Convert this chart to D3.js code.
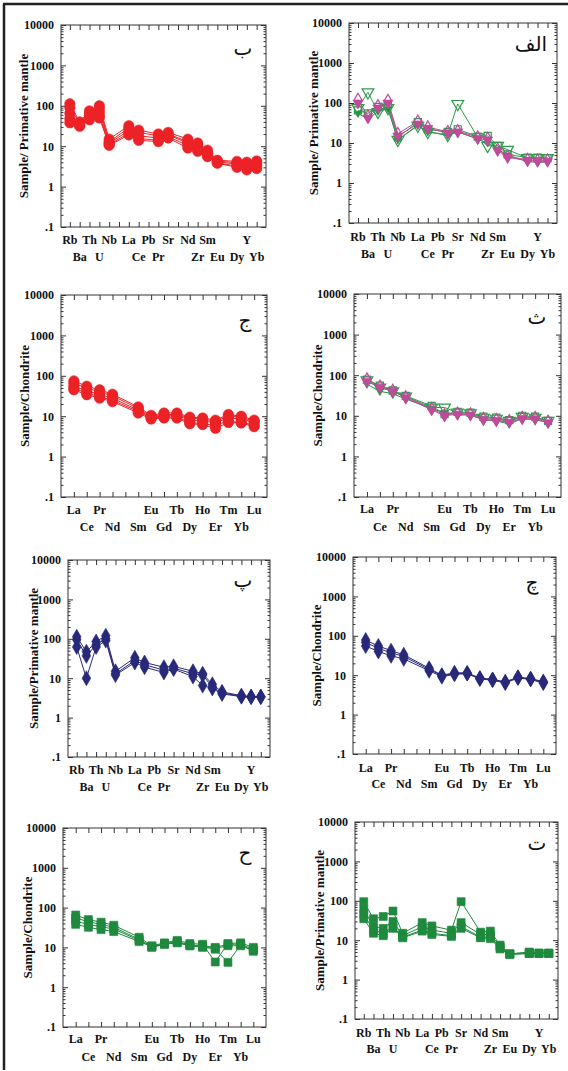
<!DOCTYPE html>
<html>
<head>
<meta charset="utf-8">
<script src="https://cdn.jsdelivr.net/npm/d3@7"></script>
<style>
body{margin:0;background:#fff}
text{font-family:"Liberation Serif","Times New Roman",serif;font-weight:bold;fill:#111}
</style>
</head>
<body>
<svg id="fig"></svg>
<script>
// element slots on the x axis ("" = empty slot)
var pmLabels = ["Rb","Ba","Th","U","Nb","","La","Ce","Pb","Pr","Sr","","Nd","Zr","Sm","Eu","","Dy","Y","Yb"];
var pmPlotted = ["Rb","Ba","Th","U","Nb","La","Ce","Pr","Sr","Nd","Zr","Sm","Eu","Dy","Y","Yb"];
var reeLabels = ["La","Ce","Pr","Nd","","Sm","Eu","Gd","Tb","Dy","Ho","Er","Tm","Yb","Lu"];
var reePlotted = ["La","Ce","Pr","Nd","Sm","Eu","Gd","Tb","Dy","Ho","Er","Tm","Yb","Lu"];

var yTicks = [0.1,1,10,100,1000,10000];
var yTickLabels = [".1","1","10","100","1000","10000"];

// ب  primitive mantle, red circles
var pmRed = [
  [112,40,75,100,15,32,25,20,22,15,12,8,4.5,4.2,4,4.3],
  [90,37,65,85,13,28,22,18,20,13,10.5,7,4.3,3.9,3.6,4],
  [65,35,58,70,12,24,18,16,19,12,9.5,6.5,4.1,3.6,3.4,3.6],
  [48,33,50,58,11,21,15.5,14,17,10.5,8.5,6,3.9,3.2,3,3.2],
  [38,31,45,50,10.5,19,14,13,16,9,7.5,5.5,3.8,3,2.6,2.8]
];
// الف  primitive mantle, green / magenta triangles
var pmMixed = [
  [55,40,62,72,12,28,19,15.5,19,12.5,10,7,5,3.4,3.3,3.3],
  [75,185,60,75,12,27,19,16,95,14,8.5,8.5,6.8,4.2,4.2,4.2],
  [65,55,80,90,14,33,22,19,22,14.5,15,8.5,5.2,4.3,4.3,4.2],
  [100,42,75,100,15,30,23,18,19,13,12,6.5,4.4,3.6,3.5,3.5],
  [122,47,85,115,17,35,25,19,20,14,13,7,4.6,3.8,3.7,3.7]
];
// ج  chondrite, red circles
var reeRed = [
  [75,55,45,35,17,10.5,12,12,9.5,9,8,11,10,8],
  [65,50,40,32,15.5,10,11,11,9,8.5,7.5,10,9.5,7.5],
  [55,42,35,28,14,9.5,10,10.5,8,7.5,7,9,8.5,7],
  [48,38,30,25,13,9,9.5,9.5,7,6.5,6,7.5,7,6],
  [45,34,28,23,12,8.5,9,9,6.5,6.2,5,7,6.8,5.5]
];
// ث  chondrite, green / magenta triangles
var reeMixed = [
  [60,40,35,26,15,12,10.5,10.5,8,7.5,6.3,8.5,8,6.8],
  [75,50,40,30,16,16,12,11.5,9,8.5,7.5,9.5,9,7.5],
  [78,55,42,31,17.5,11,12.5,12,9.5,9,7.8,10,9.5,7.5],
  [70,50,40,28,14,10,11,10.5,8,7.5,7,8.5,8.5,6.8],
  [80,53,42,29,15,10.5,11.5,11,8.5,8,7.5,9,9,7.3]
];
// پ  primitive mantle, navy diamonds
var pmNavy = [
  [112,47,85,120,15,33,25,19,20,15,13,7,4.5,3.6,3.4,3.4],
  [95,37,70,100,13,28,22,16,18,13,12,6,4.2,3.5,3.4,3.4],
  [62,10,62,90,12,25,19,14,17,11,6.5,5.5,4,3.4,3.3,3.3]
];
// چ  chondrite, navy diamonds
var reeNavy = [
  [78,55,42,33,15,10,11.5,11.5,8.5,7.8,6.8,8.9,8.2,6.9],
  [68,48,37,30,14,9.8,11,11,8.2,7.7,6.6,8.7,8,6.6],
  [55,40,31,26,13,9.2,10.5,11,8,7.5,6.3,8.5,7.8,6.3]
];
// ح  chondrite, green squares
var reeGreen = [
  [65,50,43,36,18,11,13,15,12.5,12,4.3,12.5,13,10],
  [55,44,38,32,16,10.5,12.5,14,11.5,11,10,12,12,9],
  [45,38,33,29,15,10,12,13.5,11,10.5,9,4.2,11.5,8],
  [38,32,28,25,14,10.5,12,13,11,10,9.5,11,11,8.5]
];
// ت  primitive mantle, green squares
var pmGreen = [
  [95,35,40,55,15,28,23,18,95,16,17,7.5,4.5,5,4.7,4.7],
  [60,22,20,30,13,22,18,15,28,14,14,7,4.5,4.8,4.7,4.7],
  [45,18,15,22,12,18,15,13,22,12,12,6.5,4.4,4.6,4.6,4.6],
  [35,15,13,20,11.5,17,14,12.5,20,11.5,11,6,4.4,4.6,4.6,4.6]
];

var W = 568, H = 1071;
var serif = "'Liberation Serif', 'Times New Roman', serif";
var svg = d3.select("#fig").attr("width", W).attr("height", H);

var red = "#ec2227", navy = "#29297a", green = "#1f8a3e", green2 = "#2f9a4c", mag = "#c04a9c";

function styles(n, color, marker, fill) {
  var out = [];
  for (var i = 0; i < n; i++) out.push({color: color, marker: marker, fill: fill});
  return out;
}
var mixedStyles = [
  {color: green, marker: "tri", fill: true, size: 22},
  {color: green2, marker: "tri", fill: false, size: 60},
  {color: green2, marker: "square", fill: false, size: 50},
  {color: mag, marker: "tri", fill: true, size: 45},
  {color: mag, marker: "diamond", fill: false, size: 45}
];

var panels = [
  {kind:"pm", x0:61, x1:266, y0:25, y1:227, ylab:"Sample/ Primative mantle", ylx:23, row1:244, row2:261, letter:"ب", lx:243, ly:48, data:pmRed, st:styles(5, red, "circle", true)},
  {kind:"pm", x0:349, x1:557, y0:23, y1:223, ylab:"Sample/ Primative mantle", ylx:313, row1:241, row2:258, letter:"الف", lx:531, ly:44, data:pmMixed, st:mixedStyles},
  {kind:"ree", x0:61, x1:267, y0:295, y1:497, ylab:"Sample/Chondrite", ylx:24, row1:514, row2:531, letter:"ج", lx:245, ly:320, data:reeRed, st:styles(5, red, "circle", true)},
  {kind:"ree", x0:354, x1:561, y0:294, y1:497, ylab:"Sample/Chondrite", ylx:317, row1:513, row2:531, letter:"ث", lx:537, ly:317, data:reeMixed, st:mixedStyles},
  {kind:"pm", x0:68, x1:270, y0:560, y1:757, ylab:"Sample/Primative mantle", ylx:33, row1:774, row2:791, letter:"پ", lx:243, ly:580, data:pmNavy, st:styles(3, navy, "diamond", true)},
  {kind:"ree", x0:353, x1:556, y0:557, y1:754, ylab:"Sample/Chondrite", ylx:316, row1:772, row2:788, letter:"چ", lx:532, ly:582, data:reeNavy, st:styles(3, navy, "diamond", true)},
  {kind:"ree", x0:63, x1:266, y0:828, y1:1027, ylab:"Sample/Chondrite", ylx:27, row1:1043, row2:1061, letter:"ح", lx:245, ly:853, data:reeGreen, st:styles(4, green, "square", true)},
  {kind:"pm", x0:355, x1:558, y0:822, y1:1019, ylab:"Sample/Primative mantle", ylx:319, row1:1037, row2:1053, letter:"ت", lx:537, ly:843, data:pmGreen, st:styles(4, green, "square", true)}
];

// outer frame lines
svg.append("line").attr("x1",4).attr("x2",4).attr("y1",4).attr("y2",1070).attr("stroke","#222").attr("stroke-width",2.5);
svg.append("line").attr("x1",3).attr("x2",568).attr("y1",4).attr("y2",4).attr("stroke","#222").attr("stroke-width",2.5);

var minorTicks = [];
[0.1,1,10,100,1000].forEach(function(d){ for (var k = 2; k < 10; k++) minorTicks.push(d*k); });

panels.forEach(function(p) {
  var labels = p.kind == "pm" ? pmLabels : reeLabels;
  var plotted = p.kind == "pm" ? pmPlotted : reePlotted;
  var x = d3.scaleLinear()
    .domain(p.kind == "pm" ? [-0.9, labels.length - 0.05] : [-1, labels.length])
    .range([p.x0, p.x1]);
  var y = d3.scaleLog().domain([0.1, 10000]).range([p.y1, p.y0]);
  var g = svg.append("g");

  g.append("rect").attr("x",p.x0).attr("y",p.y0).attr("width",p.x1-p.x0).attr("height",p.y1-p.y0)
    .attr("fill","none").attr("stroke","#333").attr("stroke-width",1);

  var left = g.append("g").attr("transform","translate("+p.x0+",0)")
    .call(d3.axisLeft(y).tickValues(yTicks).tickFormat(function(d,i){return yTickLabels[i];})
      .tickSize(-5).tickSizeOuter(0).tickPadding(7));
  left.attr("font-family", serif);
  left.selectAll("text").style("font-size","12px").style("font-family",serif).style("font-weight","bold");
  g.append("g").attr("transform","translate("+p.x0+",0)")
    .call(d3.axisLeft(y).tickValues(minorTicks).tickFormat("").tickSize(-2.5).tickSizeOuter(0));
  g.append("g").attr("transform","translate("+p.x1+",0)")
    .call(d3.axisRight(y).tickValues(yTicks).tickFormat("").tickSize(-5).tickSizeOuter(0));
  g.append("g").attr("transform","translate("+p.x1+",0)")
    .call(d3.axisRight(y).tickValues(minorTicks).tickFormat("").tickSize(-2.5).tickSizeOuter(0));
  g.append("g").attr("transform","translate(0,"+p.y0+")")
    .call(d3.axisTop(x).tickValues(d3.range(labels.length)).tickFormat("").tickSize(-5).tickSizeOuter(0));
  g.append("g").attr("transform","translate(0,"+p.y1+")")
    .call(d3.axisBottom(x).tickValues(d3.range(labels.length)).tickFormat("").tickSize(-5).tickSizeOuter(0));
  g.selectAll(".domain").remove();
  g.selectAll(".tick line").attr("stroke","#333");

  // element names in two staggered rows
  labels.forEach(function(el, i) {
    if (!el) return;
    g.append("text").attr("x", x(i)).attr("y", i % 2 == 0 ? p.row1 : p.row2)
      .attr("text-anchor","middle").style("font-family",serif).style("font-size","12px").text(el);
  });

  g.append("text")
    .attr("transform","translate("+p.ylx+","+((p.y0+p.y1)/2)+") rotate(-90)")
    .attr("text-anchor","middle").attr("dominant-baseline","central")
    .style("font-family",serif).style("font-size","13px").text(p.ylab);

  g.append("text").attr("x",p.lx).attr("y",p.ly).attr("text-anchor","middle")
    .attr("dominant-baseline","central")
    .style("font-family","'DejaVu Sans', sans-serif").style("font-weight","normal").style("font-size","20px")
    .text(p.letter);

  var line = d3.line()
    .x(function(d){ return x(labels.indexOf(d.el)); })
    .y(function(d){ return y(d.v); });

  p.data.forEach(function(vals, si) {
    var s = p.st[si];
    var pts = plotted.map(function(el, i){ return {el: el, v: vals[i]}; });
    g.append("path").datum(pts).attr("d", line)
      .attr("fill","none").attr("stroke", s.color).attr("stroke-width", 1);
  });
  p.data.forEach(function(vals, si) {
    var s = p.st[si];
    var pts = plotted.map(function(el, i){ return {el: el, v: vals[i]}; });
    var type = {circle: d3.symbolCircle, diamond: d3.symbolDiamond, square: d3.symbolSquare, tri: d3.symbolTriangle}[s.marker];
    var size = s.size || {circle: 85, diamond: 65, square: 64, tri: 50}[s.marker];
    var sym = d3.symbol().type(type).size(size);
    g.selectAll(null).data(pts).enter().append("path")
      .attr("d", sym)
      .attr("transform", function(d){
        return "translate("+x(labels.indexOf(d.el))+","+y(d.v)+")" + (s.marker == "tri" ? " rotate(180)" : "");
      })
      .attr("fill", s.fill ? s.color : "#fff")
      .attr("fill-opacity", s.fill ? 1 : 0)
      .attr("stroke", s.color).attr("stroke-width", s.fill ? 0.6 : 1.2);
  });
});
</script>
</body>
</html>
